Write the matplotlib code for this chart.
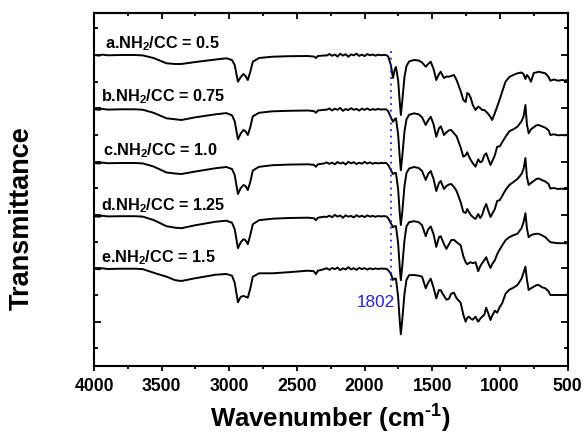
import matplotlib
matplotlib.use('Agg')
import matplotlib.pyplot as plt
from matplotlib.ticker import MultipleLocator, FixedLocator, NullFormatter

plt.rcParams['font.family'] = ['Liberation Sans', 'DejaVu Sans']
plt.rcParams['mathtext.fontset'] = 'custom'
plt.rcParams['mathtext.rm'] = 'Liberation Sans:bold'
plt.rcParams['mathtext.bf'] = 'Liberation Sans:bold'
plt.rcParams['mathtext.default'] = 'bf'

# ---------------- data ----------------
# wavenumber grid (cm^-1), shared by all spectra
wn_hi = [4000, 3960, 3940, 3900, 3800, 3700, 3640, 3560, 3464, 3400, 3354, 3250,
         3100, 3022, 2980, 2960, 2936, 2915, 2895, 2880, 2863, 2845, 2826, 2780,
         2680, 2560, 2420, 2375, 2360, 2345, 2300]
wn_mid = [2280, 2260, 2240, 2220, 2200, 2180, 2160, 2140, 2120, 2100, 2080, 2060,
          2040, 2020, 2000, 1980, 1960, 1940, 1920, 1900, 1880, 1860, 1840]
wn_fp = [1825, 1806, 1790, 1778, 1768,
         1752, 1740, 1732, 1722, 1705,
         1690, 1671, 1634, 1600, 1575,
         1548, 1530, 1511, 1490, 1470,
         1450, 1437, 1425, 1413, 1395,
         1376, 1360, 1339, 1320, 1290,
         1270, 1253, 1241, 1229, 1215,
         1200, 1180, 1160, 1145, 1131,
         1115, 1101, 1085, 1069, 1057,
         1037, 1020, 1000, 983, 958,
         930, 900, 870, 840, 825,
         811, 800, 787, 770, 750,
         730, 713, 690, 664, 640,
         627, 600, 570, 541, 520,
         500]

# absorption depth below each trace's baseline (arbitrary units, + = down)
a_hi = [0, 0.6, -0.4, 0.3, 0, 0, 0.4, 3, 8.3, 9, 9, 7, 4.5, 3.3, 5, 10, 26.7, 22, 19, 21,
        25, 17, 6.7, 3, 1.7, 1.2, 1, 1.5, 3, 1, 0.5]
b_hi = [0, 0.5, -0.5, 0.3, 0, 0, 0.4, 3.5, 9, 10, 10.7, 8, 5, 3.8, 6, 12, 30, 24, 20.7, 22,
        25.7, 18, 7, 3.5, 2, 1.5, 1.2, 1.8, 3.5, 1.2, 0.5]
c_hi = [0, 0.5, -0.4, 0.2, 0, 0, 0.4, 3.5, 9.5, 10.5, 11, 8.5, 5.2, 4, 6, 12, 31, 25, 22, 23,
        27, 19, 7.5, 3.8, 2.2, 1.6, 1.3, 1.8, 3.8, 1.3, 0.5]
d_hi = [0, 0.5, -0.5, 0.2, 0, 0, 0.4, 3.8, 10, 11.5, 12, 9, 5.5, 4.5, 6.5, 13, 32, 26, 23, 24,
        28, 19, 8, 4, 2.5, 1.8, 1.5, 2, 4, 1.5, 0.5]
e_hi = [0, 0.6, -0.5, 0.3, 0, 0, 0.4, 4, 8, 11.5, 12.3, 9.5, 6, 5.3, 7, 14, 33.6, 28, 27.3, 28,
        29, 20, 8, 4.6, 4.6, 3.5, 2, 2.5, 5.5, 2, 0.5]

a_mid = [0.5, -1.0, 0.8, -0.5, 1.5, -1.2, 0.6, -0.8, 1.8, -0.6, 0.4, -1.3, 0.9, -0.4, 1.1,
         -0.9, 0.3, -0.5, 0.7, -0.3, 0.2, 0, 0.1]
b_mid = [0.4, -0.8, 1.2, -0.6, 0.5, -1.4, 1.6, -0.3, 0.8, -1.1, 0.5, -0.4, 1.3, -0.7, 0.6,
         -0.9, 0.8, -0.2, 0.5, -0.4, 0.3, 0, 0.1]
c_mid = [-0.6, 0.9, -0.4, 1.3, -1.0, 0.6, -0.5, 1.4, -1.2, 0.4, -0.8, 1.0, -0.3, 0.7, -1.1,
         0.5, -0.6, 0.8, -0.2, 0.4, -0.1, 0.1, 0]
d_mid = [0.8, -0.5, 1.0, -1.3, 0.4, -0.7, 1.6, -0.9, 0.5, -0.3, 1.2, -1.0, 0.6, -0.5, 0.9,
         -0.8, 0.4, -0.3, 0.6, -0.2, 0.2, 0, 0.1]
e_mid = [-0.5, 1.1, -0.7, 0.5, -1.2, 1.4, -0.4, 0.8, -1.5, 0.7, -0.5, 1.2, -0.9, 0.4, -0.6,
         0.9, -0.4, 0.6, -0.3, 0.3, -0.1, 0, 0.1]

a_fp = [1.5, 10, 23, 15, 12,
        25, 47, 60, 47, 22,
        11, 6.5, 5, 5.5, 7.5,
        11.7, 9, 6.7, 14, 25,
        19, 16.7, 20, 23, 21.5,
        21.7, 21, 20, 25, 36,
        45, 47, 38, 39, 43,
        50, 55, 51.7, 53, 55,
        55, 56.7, 59, 62, 65,
        58, 51.7, 44, 36.7, 26.7,
        22, 20, 18.3, 17.5, 19,
        24, 20, 22, 26.7, 18,
        17.5, 16.7, 17.5, 18.3, 22,
        25.7, 24.5, 25.7, 25, 25.5,
        25]
b_fp = [2, 8, 12.4, 10, 9,
        25, 48, 61, 48, 22,
        10, 5.5, 4, 5, 8,
        15.7, 11, 7.4, 15, 27.4,
        19, 17, 21, 25.7, 23,
        21, 20.7, 24, 27, 38,
        47.4, 46, 43, 47, 50.7,
        54, 57.4, 50, 53, 52,
        46, 44, 50, 55.7, 52,
        46, 37.4, 37, 33, 27.4,
        22, 20, 17.4, 12, 7.4,
        -4.3, 15, 24, 20, 18,
        16, 15.7, 17, 18.4, 21,
        25.7, 25, 26, 25.7, 26,
        25.7]
c_fp = [2, 7, 11, 10, 10,
        26, 50, 62, 50, 23,
        10, 5.5, 4, 5, 8,
        17, 11, 8, 16, 28,
        20, 18, 22, 26, 23,
        21.5, 21, 24, 28, 39,
        49, 50, 46, 49, 52,
        54, 56, 51, 55, 52,
        45, 41, 48, 54, 51,
        46, 38, 37, 33, 27,
        22, 19, 16, 11, 6,
        -5, 14, 22, 20, 18,
        16, 15.5, 17, 18.5, 21,
        25.5, 25, 26, 25.7, 26,
        26]
d_fp = [2, 7, 11, 10, 10,
        27, 51, 64, 51, 24,
        10, 6, 5, 6, 9,
        20, 13, 10.3, 18, 30.7,
        21, 20, 24, 28, 32.7,
        28, 24, 23.6, 26, 29,
        40, 46, 48, 47, 46,
        47, 46, 55, 50, 47,
        44, 41, 47, 51.7, 48,
        44, 38, 33, 29.3, 24,
        21, 19, 17.6, 12, 6,
        -3, 12, 21, 19, 18,
        17.6, 17.6, 19, 21, 24.3,
        26, 26.5, 27, 27, 27,
        27]
e_fp = [1.5, 5, 11.3, 10, 10,
        28, 52, 65.6, 52, 25,
        11, 6.5, 6.3, 7, 8,
        19.6, 14, 10, 19, 29.6,
        21.3, 21.5, 24.6, 27, 31,
        30, 25, 24, 29.6, 34,
        46, 53, 49, 48, 50,
        51, 48, 53, 50, 48,
        46, 39, 45, 51.3, 47,
        42, 44, 38, 34.6, 25,
        21, 19, 16.3, 10, 4,
        -2, 11, 21.3, 19.6, 18,
        16.5, 16.3, 18.5, 19.6, 22.5,
        26.3, 26.3, 26.3, 26.3, 26.3,
        26]

baselines = [311, 256.7, 203, 149.8, 97.3]
labels = ['a.NH$_2$/CC = 0.5', 'b.NH$_2$/CC = 0.75', 'c.NH$_2$/CC = 1.0',
          'd.NH$_2$/CC = 1.25', 'e.NH$_2$/CC = 1.5']
label_x = [3920, 3945, 3930, 3950, 3950]
label_y = [322, 269, 215.5, 160, 108.5]
peak_wn = 1802

# ---------------- figure ----------------
fig = plt.figure(figsize=(5.86, 4.34), dpi=100)
ax = fig.add_axes([94 / 586, 68 / 434, 473.5 / 586, 353 / 434])

wn = wn_hi + wn_mid + wn_fp
series = [(a_hi, a_mid, a_fp), (b_hi, b_mid, b_fp), (c_hi, c_mid, c_fp),
          (d_hi, d_mid, d_fp), (e_hi, e_mid, e_fp)]
for (hi, mid, fp), base in zip(series, baselines):
    depth = hi + mid + fp
    ax.plot(wn, [base - v for v in depth], color='black', lw=1.4, solid_joinstyle='round')

for txt, x, y in zip(labels, label_x, label_y):
    ax.text(x, y, txt, fontsize=11.7, fontweight='bold', ha='left', va='center')

ax.vlines(peak_wn, 79, 319, colors='#1f1fff', linestyles=(0, (1, 2.6)), lw=1.3)
ax.annotate(str(peak_wn), xy=(peak_wn, 63.5), xytext=(2.5, 0), textcoords='offset points',
            ha='right', va='center', color='#1f1fff', fontsize=12.3)

ax.set_xlim(4000, 500)
ax.set_ylim(0, 353)
ax.xaxis.set_major_locator(MultipleLocator(500))
ax.xaxis.set_minor_locator(MultipleLocator(250))
ax.yaxis.set_major_locator(FixedLocator([44, 98, 151, 204, 258, 311]))
ax.yaxis.set_minor_locator(FixedLocator([18, 71, 124.5, 178, 231, 284, 338]))
ax.yaxis.set_major_formatter(NullFormatter())

for sp in ax.spines.values():
    sp.set_linewidth(1.5)

ax.tick_params(axis='x', which='both', direction='out', top=False, width=1.3)
ax.tick_params(axis='x', which='major', length=3.5, pad=5, labelsize=12.7)
ax.tick_params(axis='x', which='minor', length=2.5)
ax.tick_params(axis='y', which='both', direction='in', left=True, right=True, width=1.3)
ax.tick_params(axis='y', which='major', length=5)
ax.tick_params(axis='y', which='minor', length=3)
for lab in ax.get_xticklabels():
    lab.set_fontweight('bold')

# top ticks pointing inward
axt = ax.secondary_xaxis('top')
axt.xaxis.set_major_locator(MultipleLocator(500))
axt.xaxis.set_minor_locator(MultipleLocator(250))
axt.tick_params(axis='x', which='both', direction='in', width=1.3, labeltop=False)
axt.tick_params(axis='x', which='major', length=4)
axt.tick_params(axis='x', which='minor', length=2.5)
axt.spines['top'].set_linewidth(1.5)

ax.set_xlabel(r'Wavenumber (cm$^{\text{-}1}$)', fontsize=18.5, fontweight='bold', labelpad=6)
ax.set_ylabel('Transmittance', fontsize=19.5, fontweight='bold')
ax.yaxis.set_label_coords(-0.125, 0.42)

fig.savefig('out.png', dpi=100)
